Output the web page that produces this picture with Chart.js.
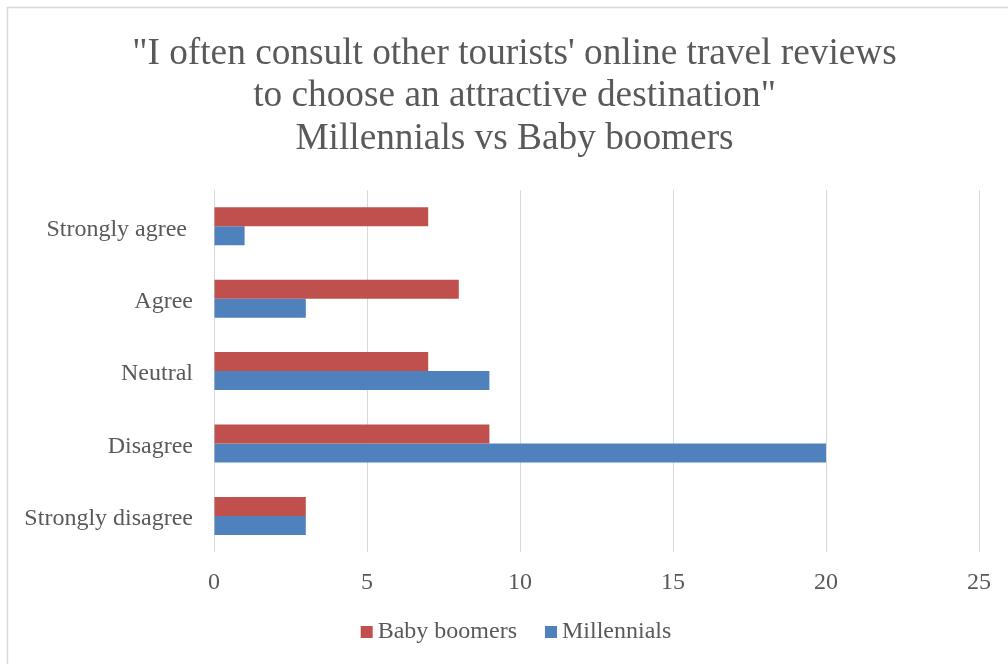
<!DOCTYPE html>
<html>
<head>
<meta charset="utf-8">
<script src="https://cdn.jsdelivr.net/npm/chart.js@4/dist/chart.umd.min.js"></script>
<style>
  html, body { margin: 0; padding: 0; background: #ffffff; }
  canvas { display: block; }
</style>
</head>
<body>
<canvas id="chart" width="1008" height="664"></canvas>
<script>
// Survey answers, listed top to bottom as they appear on the chart
const categories = ['Strongly agree ', 'Agree', 'Neutral', 'Disagree', 'Strongly disagree'];
const babyBoomers = [7, 8, 7, 9, 3];
const millennials = [1, 3, 9, 20, 3];
const seriesNames = ['Baby boomers', 'Millennials'];
const seriesColors = ['#C0504D', '#4F81BD'];
const xTicks = [0, 5, 10, 15, 20, 25];
const titleLines = [
  '"I often consult other tourists\' online travel reviews',
  'to choose an attractive destination"',
  'Millennials vs Baby boomers'
];

const FONT = '"Liberation Serif", "Times New Roman", serif';
const TEXT = '#595959';
const GRID = '#d9d9d9';

// Light frame along the top and left edges of the chart
const framePlugin = {
  id: 'frame',
  beforeDraw(chart) {
    const ctx = chart.ctx;
    ctx.save();
    ctx.fillStyle = '#ffffff';
    ctx.fillRect(0, 0, chart.width, chart.height);
    ctx.strokeStyle = GRID;
    ctx.lineWidth = 1.5;
    ctx.beginPath();
    ctx.moveTo(7.5, chart.height);
    ctx.lineTo(7.5, 7.5);
    ctx.lineTo(chart.width, 7.5);
    ctx.stroke();
    ctx.restore();
  }
};

// Three-line heading, centred over the whole framed chart
const headingPlugin = {
  id: 'heading',
  afterDraw(chart) {
    const ctx = chart.ctx;
    ctx.save();
    ctx.font = '37.3px ' + FONT;
    ctx.fillStyle = TEXT;
    ctx.textAlign = 'center';
    ctx.textBaseline = 'alphabetic';
    const cx = 514.5, firstBaseline = 63.5, step = 42.5;
    titleLines.forEach((line, i) => ctx.fillText(line, cx, firstBaseline + i * step));
    ctx.restore();
  }
};

// Compact legend: small square swatch followed closely by the series name
const legendPlugin = {
  id: 'compactLegend',
  afterDraw(chart) {
    const ctx = chart.ctx;
    const box = 12, gap = 5, spacing = 28;
    ctx.save();
    ctx.font = '24px ' + FONT;
    ctx.textBaseline = 'middle';
    ctx.textAlign = 'left';
    const items = chart.data.datasets.map(ds => ({
      label: ds.label, color: ds.backgroundColor, w: ctx.measureText(ds.label).width
    }));
    const total = items.reduce((s, it) => s + box + gap + it.w, 0) + spacing * (items.length - 1);
    let x = chart.width / 2 + 12 - total / 2;
    const y = 632;
    items.forEach(it => {
      ctx.fillStyle = it.color;
      ctx.fillRect(x, y - 6, box, box);
      ctx.fillStyle = TEXT;
      ctx.fillText(it.label, x + box + gap, y);
      x += box + gap + it.w + spacing;
    });
    ctx.restore();
  }
};

new Chart(document.getElementById('chart'), {
  type: 'bar',
  data: {
    labels: categories,
    datasets: [
      { label: seriesNames[0], data: babyBoomers, backgroundColor: seriesColors[0] },
      { label: seriesNames[1], data: millennials, backgroundColor: seriesColors[1] }
    ]
  },
  options: {
    indexAxis: 'y',
    responsive: false,
    devicePixelRatio: 1,
    animation: false,
    categoryPercentage: 0.525,
    barPercentage: 1.0,
    layout: { padding: { left: 22, right: 29, top: 190, bottom: 51 } },
    plugins: {
      legend: { display: false },
      tooltip: { enabled: false },
      title: { display: false }
    },
    scales: {
      x: {
        min: 0,
        max: 25,
        afterBuildTicks(axis) { axis.ticks = xTicks.map(v => ({ value: v })); },
        grid: { color: GRID, lineWidth: 1, drawTicks: false },
        border: { display: false },
        ticks: { color: TEXT, padding: 16, font: { family: FONT, size: 24 } }
      },
      y: {
        afterFit(axis) { axis.width = 192; },
        grid: { display: false, drawTicks: false },
        border: { display: false },
        ticks: { color: TEXT, padding: 21, labelOffset: 3, font: { family: FONT, size: 24 } }
      }
    }
  },
  plugins: [framePlugin, headingPlugin, legendPlugin]
});
</script>
</body>
</html>
